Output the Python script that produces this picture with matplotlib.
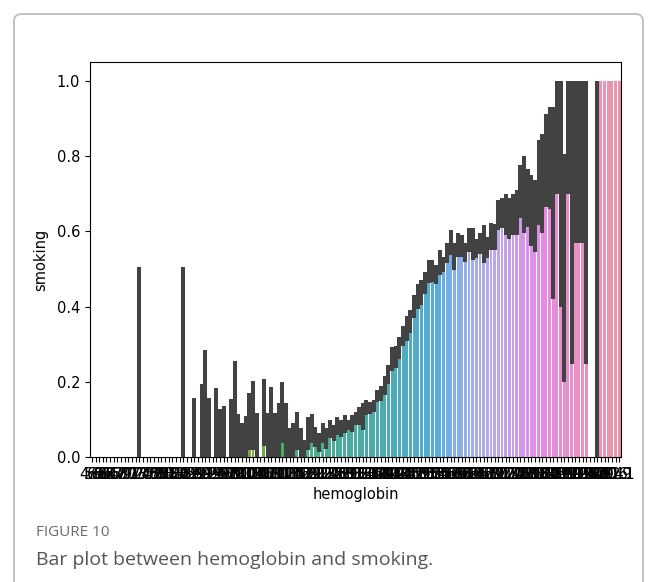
import numpy as np
import matplotlib
matplotlib.use("Agg")
import matplotlib.pyplot as plt
from matplotlib.patches import FancyBboxPatch
import seaborn as sns

# hemoglobin categories (sorted, as seaborn orders them)
hemoglobin = [
    4.9, 5.8, 6.0, 6.2, 6.4, 6.5, 6.7, 6.8, 6.9,
    7.0, 7.1, 7.2, 7.3, 7.4, 7.5, 7.6, 7.7, 7.8, 7.9,
    8.0, 8.1, 8.2, 8.3, 8.4, 8.5, 8.6, 8.7, 8.8, 8.9,
    9.0, 9.1, 9.2, 9.3, 9.4, 9.5, 9.6, 9.7, 9.8, 9.9,
    10.0, 10.1, 10.2, 10.3, 10.4, 10.5, 10.6, 10.7, 10.8, 10.9,
    11.0, 11.1, 11.2, 11.3, 11.4, 11.5, 11.6, 11.7, 11.8, 11.9,
    12.0, 12.1, 12.2, 12.3, 12.4, 12.5, 12.6, 12.7, 12.8, 12.9,
    13.0, 13.1, 13.2, 13.3, 13.4, 13.5, 13.6, 13.7, 13.8, 13.9,
    14.0, 14.1, 14.2, 14.3, 14.4, 14.5, 14.6, 14.7, 14.8, 14.9,
    15.0, 15.1, 15.2, 15.3, 15.4, 15.5, 15.6, 15.7, 15.8, 15.9,
    16.0, 16.1, 16.2, 16.3, 16.4, 16.5, 16.6, 16.7, 16.8, 16.9,
    17.0, 17.1, 17.2, 17.3, 17.4, 17.5, 17.6, 17.7, 17.8, 17.9,
    18.0, 18.1, 18.2, 18.3, 18.4, 18.5, 18.6, 18.7, 18.8, 18.9,
    19.0, 19.1, 19.2, 19.3, 19.4, 19.5, 19.6, 19.7, 19.8, 19.9,
    20.0, 20.2, 20.4, 20.6, 20.9, 21.1,
]

# mean smoking rate per category
smoking_mean = [
    0, 0, 0, 0, 0, 0, 0, 0, 0, 0,
    0, 0, 0, 0.25, 0, 0, 0, 0, 0, 0,
    0, 0, 0, 0, 0, 0.25, 0, 0, 0.06, 0,
    0.08, 0.12, 0.06, 0, 0.07, 0.05, 0.05, 0, 0.06, 0.10,
    0.04, 0.03, 0.04, 0.08, 0.10, 0.04, 0, 0.10, 0.04, 0.07,
    0.04, 0.05, 0.10, 0.06, 0.03, 0.035, 0.06, 0.03, 0.015, 0.06,
    0.07, 0.05, 0.035, 0.06, 0.045, 0.075, 0.063, 0.083, 0.077, 0.088,
    0.086, 0.09, 0.103, 0.11, 0.107, 0.132, 0.132, 0.136, 0.163, 0.17,
    0.19, 0.22, 0.26, 0.266, 0.29, 0.322, 0.342, 0.36, 0.40, 0.427,
    0.437, 0.464, 0.493, 0.495, 0.485, 0.517, 0.513, 0.541, 0.57, 0.532,
    0.564, 0.561, 0.543, 0.577, 0.566, 0.555, 0.568, 0.566, 0.558, 0.585,
    0.585, 0.643, 0.65, 0.64, 0.63, 0.64, 0.65, 0.70, 0.70, 0.69,
    0.655, 0.64, 0.73, 0.73, 0.79, 0.795, 0.67, 0.85, 0.70, 0.50,
    0.85, 0.625, 0.785, 0.785, 0.785, 0.625, 0, 0, 0.5, 1.0,
    1.0, 1.0, 1.0, 1.0, 1.0,
]

# 95% CI lower / upper
ci_low = [
    0, 0, 0, 0, 0, 0, 0, 0, 0, 0,
    0, 0, 0, 0, 0, 0, 0, 0, 0, 0,
    0, 0, 0, 0, 0, 0, 0, 0, 0, 0,
    0, 0, 0, 0, 0, 0, 0, 0, 0, 0,
    0, 0, 0, 0.02, 0.02, 0, 0, 0.03, 0, 0,
    0, 0, 0.037, 0, 0, 0, 0.02, 0, 0, 0.02,
    0.037, 0.028, 0.015, 0.037, 0.021, 0.05, 0.042, 0.059, 0.055, 0.065,
    0.072, 0.068, 0.086, 0.086, 0.072, 0.112, 0.116, 0.12, 0.148, 0.15,
    0.165, 0.195, 0.23, 0.236, 0.26, 0.295, 0.31, 0.33, 0.37, 0.395,
    0.405, 0.435, 0.462, 0.466, 0.46, 0.484, 0.493, 0.515, 0.537, 0.497,
    0.533, 0.533, 0.519, 0.546, 0.524, 0.53, 0.541, 0.515, 0.53, 0.55,
    0.55, 0.604, 0.61, 0.59, 0.58, 0.59, 0.59, 0.635, 0.595, 0.612,
    0.56, 0.546, 0.617, 0.595, 0.665, 0.66, 0.42, 0.70, 0.40, 0.20,
    0.70, 0.248, 0.57, 0.57, 0.57, 0.248, 0, 0, 0, 1.0,
    1.0, 1.0, 1.0, 1.0, 1.0,
]

ci_high = [
    0, 0, 0, 0, 0, 0, 0, 0, 0, 0,
    0, 0, 0, 0.505, 0, 0, 0, 0, 0, 0,
    0, 0, 0, 0, 0, 0.505, 0, 0, 0.157, 0,
    0.195, 0.285, 0.157, 0, 0.185, 0.128, 0.136, 0, 0.154, 0.256,
    0.115, 0.092, 0.11, 0.172, 0.203, 0.117, 0, 0.208, 0.117, 0.188,
    0.117, 0.143, 0.20, 0.143, 0.077, 0.09, 0.12, 0.077, 0.046, 0.108,
    0.115, 0.081, 0.064, 0.09, 0.077, 0.10, 0.086, 0.108, 0.10, 0.112,
    0.10, 0.112, 0.121, 0.133, 0.143, 0.152, 0.148, 0.152, 0.179, 0.19,
    0.215, 0.245, 0.292, 0.296, 0.32, 0.35, 0.375, 0.39, 0.43, 0.46,
    0.47, 0.493, 0.524, 0.524, 0.51, 0.55, 0.533, 0.568, 0.604, 0.568,
    0.595, 0.59, 0.568, 0.608, 0.608, 0.58, 0.595, 0.617, 0.586, 0.621,
    0.62, 0.683, 0.69, 0.70, 0.69, 0.70, 0.71, 0.776, 0.80, 0.767,
    0.75, 0.736, 0.842, 0.86, 0.913, 0.93, 0.93, 1.0, 1.0, 0.805,
    1.0, 1.0, 1.0, 1.0, 1.0, 1.0, 0, 0, 1.0, 1.0,
    1.0, 1.0, 1.0, 1.0, 1.0,
]

n = len(hemoglobin)
pos = np.arange(n)
labels = [str(v) for v in hemoglobin]

# old seaborn default for many categories: husl (l=.7), desaturated to .75
colors = sns.color_palette(sns.husl_palette(n, l=.7), desat=.75)

fig = plt.figure(figsize=(6.57, 5.82), dpi=100)
ax = fig.add_axes([0.137, 0.2143, 0.8082, 0.6792])

ax.bar(pos, smoking_mean, width=0.8, color=colors, zorder=2)

lo = np.array(ci_low)
hi = np.array(ci_high)
has_err = hi > lo
ax.vlines(pos[has_err], lo[has_err], hi[has_err], color="#424242",
          linewidth=2.9, zorder=3)

ax.set_xlim(-0.5, n - 0.5)
ax.set_ylim(0, 1.05)
ax.set_xticks(pos)
ax.set_xticklabels(labels, fontsize=11)
ax.set_yticks([0.0, 0.2, 0.4, 0.6, 0.8, 1.0])
ax.tick_params(axis="y", labelsize=10.5)

ax.set_xlabel("hemoglobin", fontsize=10.5)
ax.set_ylabel("smoking", fontsize=10.5)
ax.xaxis.set_label_coords(0.5, -0.075)
ax.yaxis.set_label_coords(-0.079, 0.5)

# figure caption
fig.text(36 / 657, 1 - 532 / 582, "FIGURE 10", fontsize=11, color="#6b6b6b",
         family="Open Sans", va="center", ha="left")
fig.text(36 / 657, 1 - 560 / 582, "Bar plot between hemoglobin and smoking.",
         fontsize=14, color="#555555", family="Open Sans", va="center", ha="left")

# outer frame
frame = FancyBboxPatch((14 / 657, -0.05), (643 - 14) / 657, 1.05 - 14 / 582,
                       boxstyle="round,pad=0,rounding_size=0.012",
                       transform=fig.transFigure, facecolor="none",
                       edgecolor="#bdbdbd", linewidth=1.3)
fig.add_artist(frame)

fig.savefig("out.png", dpi=100)
